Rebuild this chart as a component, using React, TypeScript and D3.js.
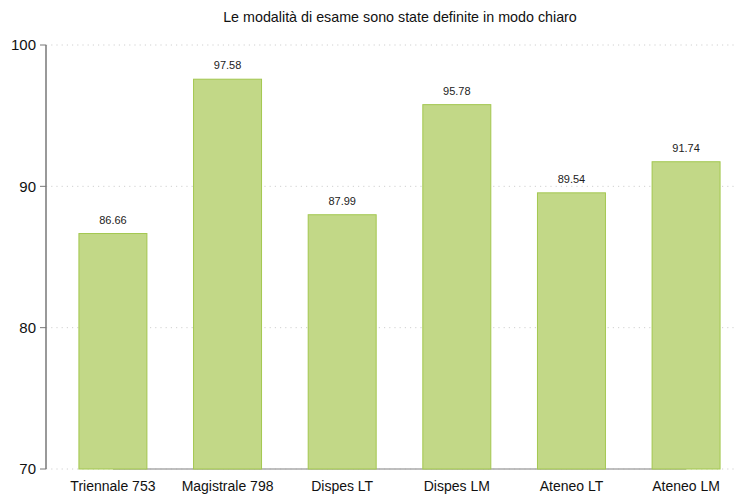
import React from 'react';
import * as d3 from 'd3';

const categories = ['Triennale 753', 'Magistrale 798', 'Dispes LT', 'Dispes LM', 'Ateneo LT', 'Ateneo LM'];
const values = [86.66, 97.58, 87.99, 95.78, 89.54, 91.74];
const yTicks = [70, 80, 90, 100];
const title = 'Le modalità di esame sono state definite in modo chiaro';

export default function App() {
  const width = 740;
  const height = 495;
  const left = 46;
  const right = 736;
  const top = 45;
  const bottom = 469;
  const font = '"Liberation Sans", Arial, sans-serif';

  const x = d3.scaleBand<string>()
    .domain(categories)
    .range([56, 743])
    .paddingInner(0.407)
    .paddingOuter(0.2);

  const y = d3.scaleLinear().domain([70, 100]).range([bottom, top]);

  const firstCenter = (x(categories[0]) || 0) + x.bandwidth() / 2;
  const lastCenter = (x(categories[categories.length - 1]) || 0) + x.bandwidth() / 2;

  return (
    <svg width={width} height={height} style={{ position: 'absolute', left: 0, top: 0, background: '#fff' }} fontFamily={font}>
      <text x={400} y={22} textAnchor="middle" fontSize={14.3} fill="#111">{title}</text>
      {yTicks.map(t => (
        <g key={t}>
          <line x1={left} x2={right} y1={y(t)} y2={y(t)} stroke="#d0d0d0" strokeDasharray="1.2 4" />
          <line x1={left - 6} x2={left} y1={y(t)} y2={y(t)} stroke="#777" />
          <text x={left - 10} y={y(t)} dy="0.35em" textAnchor="end" fontSize={15} fill="#111">{t}</text>
        </g>
      ))}
      <line x1={firstCenter} x2={lastCenter} y1={bottom} y2={bottom} stroke="#aaa" strokeWidth={1.5} />
      {categories.map((c, i) => (
        <g key={c}>
          <rect
            x={x(c)}
            y={y(values[i])}
            width={x.bandwidth()}
            height={bottom - y(values[i])}
            fill="#c2d887"
            stroke="#a3c74f"
            strokeWidth={1}
          />
          <text x={(x(c) || 0) + x.bandwidth() / 2} y={y(values[i]) - 10} textAnchor="middle" fontSize={11} fill="#222">
            {values[i].toFixed(2)}
          </text>
          <text x={(x(c) || 0) + x.bandwidth() / 2} y={491} textAnchor="middle" fontSize={14} fill="#111">{c}</text>
        </g>
      ))}
      <line x1={left} x2={left} y1={top} y2={bottom} stroke="#777" strokeWidth={1.5} />
    </svg>
  );
}
